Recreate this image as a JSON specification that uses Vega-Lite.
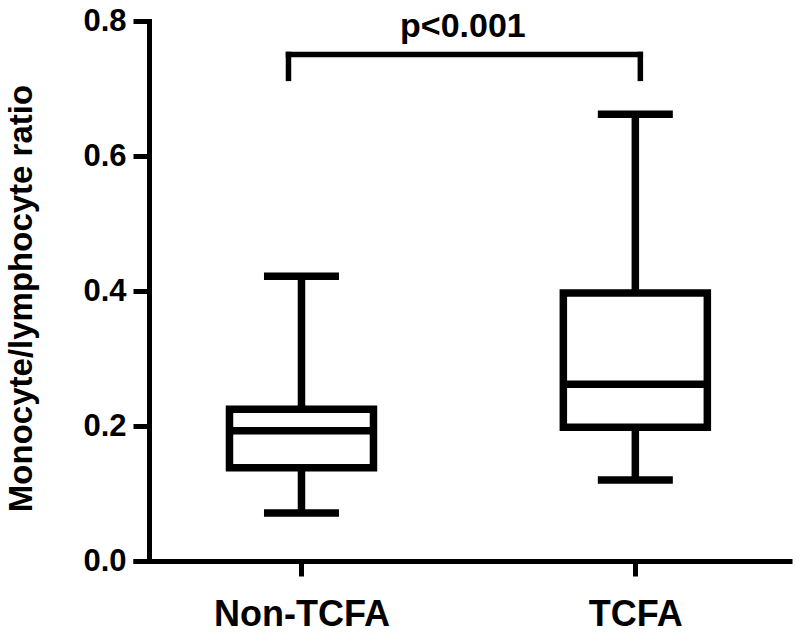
{
  "$schema": "https://vega.github.io/schema/vega-lite/v6.json",
  "width": 659,
  "height": 540,
  "autosize": {"type": "none"},
  "padding": {"left": 133, "top": 21, "right": 8, "bottom": 80},
  "background": "white",
  "config": {
    "view": {"stroke": null},
    "font": "Liberation Sans",
    "axis": {"grid": false, "domainColor": "black", "tickColor": "black", "labelColor": "black", "titleColor": "black"}
  },
  "datasets": {
    "boxes": [
      {"group": "Non-TCFA", "code": 1, "lower": 0.071, "q1": 0.138, "median": 0.193, "q3": 0.225, "upper": 0.422},
      {"group": "TCFA", "code": 2, "lower": 0.120, "q1": 0.198, "median": 0.262, "q3": 0.397, "upper": 0.662}
    ],
    "annot": [
      {"a": 1, "b": 2, "mid": 1.5, "y": 0.7504, "yb": 0.715, "ty": 0.776, "label": "p<0.001"}
    ]
  },
  "layer": [
    {
      "data": {"name": "boxes"},
      "mark": {"type": "rule", "color": "black", "strokeWidth": 7.5},
      "encoding": {
        "x": {
          "field": "code", "type": "quantitative",
          "scale": {"domain": [0.5103, 2.4543], "nice": false, "zero": false},
          "axis": {
            "values": [1, 2], "title": null,
            "labelExpr": "datum.value == 1 ? 'Non-TCFA' : 'TCFA'",
            "labelFont": "Liberation Sans", "labelFontWeight": "bold", "labelFontSize": 36,
            "labelPadding": 21, "tickSize": 15, "tickWidth": 5, "domainWidth": 5,
            "labelFlush": false, "labelOverlap": false
          }
        },
        "y": {
          "field": "lower", "type": "quantitative",
          "scale": {"domain": [0, 0.8], "nice": false, "zero": true},
          "axis": {
            "values": [0, 0.2, 0.4, 0.6, 0.8], "format": ".1f",
            "title": "Monocyte/lymphocyte ratio",
            "titleFont": "Liberation Sans", "titleFontWeight": "bold", "titleFontSize": 33,
            "titleX": -118, "titleY": 277, "titleAngle": -90, "titleBaseline": "alphabetic", "titleAlign": "center",
            "labelFont": "Liberation Sans", "labelFontWeight": "bold", "labelFontSize": 31,
            "labelPadding": 7, "tickSize": 16, "tickWidth": 5, "domainWidth": 5, "domainCap": "square",
            "offset": -16, "labelFlush": false, "labelOverlap": false
          }
        },
        "y2": {"field": "upper"}
      }
    },
    {
      "data": {"name": "boxes"},
      "mark": {"type": "bar", "orient": "vertical", "size": 144, "fill": "white", "stroke": "black", "strokeWidth": 7.5},
      "encoding": {
        "x": {"field": "code", "type": "quantitative"},
        "y": {"field": "q1", "type": "quantitative"},
        "y2": {"field": "q3"}
      }
    },
    {
      "data": {"name": "boxes"},
      "mark": {"type": "tick", "orient": "horizontal", "size": 144, "thickness": 7.5, "color": "black", "opacity": 1},
      "encoding": {
        "x": {"field": "code", "type": "quantitative"},
        "y": {"field": "median", "type": "quantitative"}
      }
    },
    {
      "data": {"name": "boxes"},
      "mark": {"type": "tick", "orient": "horizontal", "size": 75, "thickness": 7.5, "color": "black", "opacity": 1},
      "encoding": {
        "x": {"field": "code", "type": "quantitative"},
        "y": {"field": "lower", "type": "quantitative"}
      }
    },
    {
      "data": {"name": "boxes"},
      "mark": {"type": "tick", "orient": "horizontal", "size": 75, "thickness": 7.5, "color": "black", "opacity": 1},
      "encoding": {
        "x": {"field": "code", "type": "quantitative"},
        "y": {"field": "upper", "type": "quantitative"}
      }
    },
    {
      "data": {"name": "annot"},
      "mark": {"type": "rule", "color": "black", "strokeWidth": 5.5, "strokeCap": "square", "xOffset": -13, "x2Offset": 5},
      "encoding": {
        "x": {"field": "a", "type": "quantitative"},
        "x2": {"field": "b"},
        "y": {"field": "y", "type": "quantitative"}
      }
    },
    {
      "data": {"name": "annot"},
      "mark": {"type": "rule", "color": "black", "strokeWidth": 5.5, "strokeCap": "square", "xOffset": -13},
      "encoding": {
        "x": {"field": "a", "type": "quantitative"},
        "y": {"field": "y", "type": "quantitative"},
        "y2": {"field": "yb"}
      }
    },
    {
      "data": {"name": "annot"},
      "mark": {"type": "rule", "color": "black", "strokeWidth": 5.5, "strokeCap": "square", "xOffset": 5},
      "encoding": {
        "x": {"field": "b", "type": "quantitative"},
        "y": {"field": "y", "type": "quantitative"},
        "y2": {"field": "yb"}
      }
    },
    {
      "data": {"name": "annot"},
      "mark": {"type": "text", "font": "Liberation Sans", "fontWeight": "bold", "fontSize": 34, "color": "black", "baseline": "alphabetic", "align": "center", "dx": -5.5},
      "encoding": {
        "x": {"field": "mid", "type": "quantitative"},
        "y": {"field": "ty", "type": "quantitative"},
        "text": {"field": "label"}
      }
    }
  ]
}
